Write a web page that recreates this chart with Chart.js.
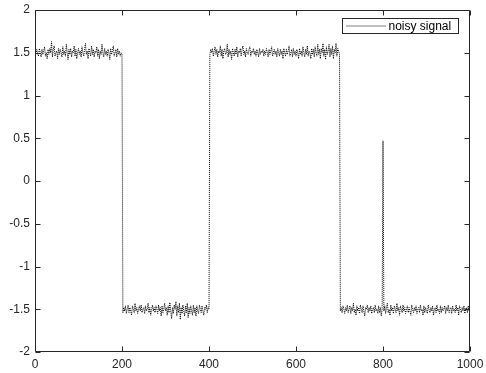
<!DOCTYPE html>
<html>
<head>
<meta charset="utf-8">
<script src="https://cdn.jsdelivr.net/npm/chart.js@4"></script>
<style>
html,body{margin:0;padding:0;background:#fff;}
canvas{display:block;}
</style>
</head>
<body>
<canvas id="c" width="486" height="373"></canvas>
<script>
// sample indices: every 2nd sample from 0 to 1000
const sampleStep = 2;
// signal values, by segment
const segHigh1 = [
1.52,1.48,1.54,1.50,1.46,1.55,1.50,1.45,1.54,1.48,
1.52,1.57,1.46,1.50,1.43,1.54,1.48,1.55,1.50,1.63,
1.45,1.54,1.58,1.46,1.50,1.52,1.43,1.55,1.48,1.54,
1.50,1.45,1.57,1.48,1.52,1.46,1.60,1.50,1.42,1.54,
1.48,1.55,1.45,1.52,1.50,1.58,1.46,1.54,1.43,1.50,
1.55,1.48,1.52,1.45,1.57,1.50,1.46,1.54,1.61,1.48,
1.52,1.43,1.55,1.50,1.46,1.58,1.48,1.54,1.45,1.52,
1.50,1.57,1.46,1.54,1.43,1.52,1.48,1.60,1.50,1.45,
1.55,1.48,1.52,1.46,1.54,1.50,1.42,1.55,1.48,1.52,
1.58,1.46,1.50,1.54,1.45,1.55,1.48,1.52,1.46,1.50,
1.48];
const segLow1 = [
-1.54,-1.48,-1.52,-1.46,-1.55,-1.50,-1.45,-1.54,-1.48,-1.52,
-1.57,-1.46,-1.50,-1.54,-1.43,-1.52,-1.48,-1.55,-1.50,-1.46,
-1.52,-1.45,-1.54,-1.50,-1.48,-1.55,-1.46,-1.52,-1.50,-1.43,
-1.54,-1.48,-1.57,-1.50,-1.45,-1.52,-1.48,-1.54,-1.46,-1.50,
-1.55,-1.45,-1.52,-1.48,-1.58,-1.46,-1.54,-1.50,-1.43,-1.52,
-1.48,-1.57,-1.46,-1.54,-1.42,-1.52,-1.61,-1.48,-1.55,-1.45,
-1.50,-1.41,-1.58,-1.46,-1.54,-1.43,-1.62,-1.48,-1.55,-1.45,
-1.52,-1.58,-1.46,-1.54,-1.43,-1.60,-1.48,-1.55,-1.46,-1.52,
-1.57,-1.45,-1.54,-1.48,-1.58,-1.46,-1.52,-1.55,-1.45,-1.50,
-1.54,-1.46,-1.52,-1.57,-1.48,-1.50,-1.45,-1.54,-1.48,-1.50];
const segHigh2 = [
1.48,1.54,1.50,1.55,1.46,1.52,1.57,1.48,1.54,1.45,
1.52,1.50,1.58,1.46,1.54,1.43,1.52,1.55,1.48,1.50,
1.60,1.45,1.54,1.48,1.52,1.42,1.55,1.50,1.46,1.54,
1.48,1.57,1.45,1.52,1.50,1.55,1.46,1.54,1.58,1.48,
1.52,1.45,1.55,1.50,1.48,1.54,1.57,1.46,1.52,1.50,
1.55,1.48,1.52,1.46,1.54,1.50,1.45,1.55,1.48,1.52,
1.50,1.54,1.46,1.52,1.48,1.55,1.50,1.45,1.54,1.48,
1.52,1.57,1.46,1.50,1.54,1.48,1.52,1.45,1.55,1.50,
1.46,1.54,1.48,1.52,1.43,1.55,1.50,1.46,1.54,1.48,
1.52,1.58,1.46,1.50,1.54,1.45,1.55,1.48,1.52,1.46,
1.54,1.50,1.43,1.55,1.48,1.52,1.46,1.57,1.50,1.45,
1.54,1.48,1.58,1.46,1.52,1.50,1.43,1.55,1.48,1.54,
1.45,1.57,1.50,1.46,1.60,1.48,1.54,1.43,1.55,1.50,
1.61,1.46,1.54,1.42,1.57,1.48,1.52,1.60,1.45,1.55,
1.48,1.58,1.43,1.54,1.50,1.61,1.46,1.55,1.52,1.48];
const segLow2 = [
-1.52,-1.48,-1.54,-1.46,-1.50,-1.55,-1.48,-1.52,-1.45,-1.54,
-1.50,-1.46,-1.55,-1.48,-1.52,-1.43,-1.54,-1.50,-1.57,-1.46,
-1.52,-1.48,-1.55,-1.45,-1.50,-1.54,-1.46,-1.52,-1.58,-1.48,
-1.50,-1.45,-1.54,-1.48,-1.52,-1.46,-1.55,-1.50,-1.48,-1.54,
-1.45,-1.52,-1.50,-1.55,-1.46,-1.54,-1.48,-1.58,-1.50,0.47,
-1.52,-1.46,-1.55,-1.48,-1.43,-1.54,-1.50,-1.57,-1.45,-1.52,
-1.48,-1.55,-1.46,-1.50,-1.54,-1.43,-1.52,-1.48,-1.57,-1.46,
-1.50,-1.54,-1.45,-1.52,-1.48,-1.55,-1.50,-1.46,-1.54,-1.48,
-1.52,-1.57,-1.45,-1.50,-1.54,-1.48,-1.52,-1.46,-1.55,-1.50,
-1.48,-1.54,-1.45,-1.52,-1.50,-1.57,-1.46,-1.54,-1.48,-1.52,
-1.55,-1.45,-1.50,-1.54,-1.48,-1.52,-1.46,-1.57,-1.50,-1.48,
-1.54,-1.45,-1.52,-1.50,-1.55,-1.46,-1.54,-1.48,-1.52,-1.50,
-1.46,-1.55,-1.48,-1.52,-1.45,-1.54,-1.50,-1.48,-1.55,-1.46,
-1.52,-1.50,-1.54,-1.45,-1.52,-1.48,-1.57,-1.46,-1.50,-1.54,
-1.48,-1.52,-1.46,-1.55,-1.50,-1.48,-1.54,-1.46,-1.52,-1.50];
const seriesLabel = 'noisy signal';
const xTicks = [0, 200, 400, 600, 800, 1000];
const yTicks = [-2, -1.5, -1, -0.5, 0, 0.5, 1, 1.5, 2];

const signal = [].concat(segHigh1, segLow1, segHigh2, segLow2);
const points = signal.map((v, i) => ({x: i * sampleStep, y: v}));

const AX = '#262626';
const FONT = {family: '"Liberation Sans", Arial, Helvetica, sans-serif', size: 12};

const boxPlugin = {
  id: 'boxPlugin',
  afterDraw(chart) {
    const {ctx, chartArea: a, scales} = chart;
    ctx.save();
    ctx.strokeStyle = AX;
    ctx.lineWidth = 1;
    const L = Math.round(a.left) + 0.5, R = Math.round(a.right) - 0.5;
    const T = Math.round(a.top) + 0.5, B = Math.round(a.bottom) - 0.5;
    ctx.beginPath();
    ctx.rect(L, T, R - L, B - T);
    ctx.stroke();
    const tl = 5;
    ctx.beginPath();
    xTicks.forEach(v => {
      const px = Math.round(scales.x.getPixelForValue(v)) + 0.5;
      ctx.moveTo(px, B); ctx.lineTo(px, B - tl);
      ctx.moveTo(px, T); ctx.lineTo(px, T + tl);
    });
    yTicks.forEach(v => {
      const py = Math.round(scales.y.getPixelForValue(v)) + 0.5;
      ctx.moveTo(L, py); ctx.lineTo(L + tl, py);
      ctx.moveTo(R, py); ctx.lineTo(R - tl, py);
    });
    ctx.stroke();

    // legend box inside the plot (top right)
    const ds = chart.data.datasets[0];
    ctx.font = FONT.size + 'px ' + FONT.family;
    const tw = ctx.measureText(ds.label).width;
    const bw = Math.round(tw + 53), bh = 15;
    const bx = Math.round(a.right) - 12 - bw + 0.5, by = Math.round(a.top) + 8 + 0.5;
    ctx.fillStyle = '#fff';
    ctx.fillRect(bx, by, bw, bh);
    ctx.strokeStyle = AX;
    ctx.strokeRect(bx, by, bw, bh);
    ctx.strokeStyle = ds.borderColor;
    ctx.setLineDash(ds.borderDash);
    ctx.beginPath();
    ctx.moveTo(bx + 4, by + bh / 2);
    ctx.lineTo(bx + 43, by + bh / 2);
    ctx.stroke();
    ctx.setLineDash([]);
    ctx.fillStyle = '#000';
    ctx.textBaseline = 'middle';
    ctx.textAlign = 'left';
    ctx.fillText(ds.label, bx + 46, by + bh / 2 + 0.5);
    ctx.restore();
  }
};

new Chart(document.getElementById('c'), {
  type: 'line',
  data: {
    datasets: [{
      label: seriesLabel,
      data: points,
      borderColor: '#000',
      borderWidth: 1,
      borderDash: [1, 1],
      pointRadius: 0,
      tension: 0,
      fill: false
    }]
  },
  options: {
    responsive: false,
    animation: false,
    events: [],
    layout: {padding: {left: 0, top: 10, right: 16, bottom: 0}},
    plugins: {legend: {display: false}, tooltip: {enabled: false}},
    scales: {
      x: {
        type: 'linear', min: 0, max: 1000,
        afterBuildTicks: s => { s.ticks = xTicks.map(v => ({value: v})); },
        afterFit: s => { s.height = 21; s.paddingLeft = 0; s.paddingRight = 0; },
        grid: {display: false, drawTicks: false},
        border: {display: false},
        ticks: {color: AX, font: FONT, padding: 5, maxRotation: 0, autoSkip: false,
                callback: v => String(v)}
      },
      y: {
        type: 'linear', min: -2, max: 2,
        afterBuildTicks: s => { s.ticks = yTicks.map(v => ({value: v})); },
        afterFit: s => { s.width = 35; s.paddingTop = 0; s.paddingBottom = 0; },
        grid: {display: false, drawTicks: false},
        border: {display: false},
        ticks: {color: AX, font: FONT, padding: 5, autoSkip: false,
                callback: v => String(v)}
      }
    }
  },
  plugins: [boxPlugin]
});
</script>
</body>
</html>
